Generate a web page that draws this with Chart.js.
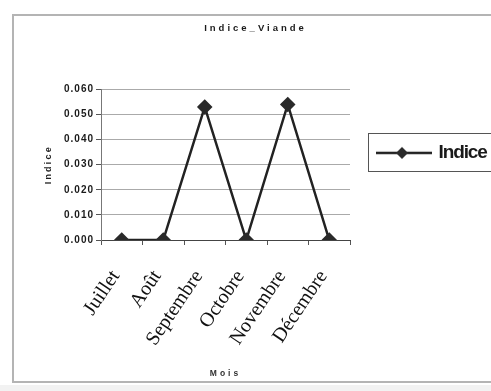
<!DOCTYPE html>
<html>
<head>
<meta charset="utf-8">
<script src="https://cdn.jsdelivr.net/npm/chart.js@4.4.1/dist/chart.umd.min.js"></script>
<style>
  html, body { margin: 0; padding: 0; background: #ffffff; }
  #wrap { position: relative; width: 491px; height: 391px; overflow: hidden; background: #fff; }
  #frame { position: absolute; left: 12px; top: 14px; width: 500px; height: 369px; border: 2px solid #b4b4b4; box-sizing: border-box; }
  #floor { position: absolute; left: 0; top: 385px; width: 491px; height: 6px; background: #f2f2f2; }
  canvas { position: absolute; left: 0; top: 0; }
</style>
</head>
<body>
<div id="wrap">
  <div id="frame"></div>
  <div id="floor"></div>
  <canvas id="c" width="491" height="391"></canvas>
</div>
<script>
// ---- data ----
const chartTitle = "Indice_Viande";
const categories = ["Juillet", "Août", "Septembre", "Octobre", "Novembre", "Décembre"];
const seriesName = "Indice";
const indiceValues = [0.000, 0.000, 0.053, 0.000, 0.054, 0.000];
const yTitle = "Indice";
const xTitle = "Mois";
const yMin = 0, yMax = 0.06, yStep = 0.01;

// legend symbol: line with diamond
function legendSymbol() {
  const c = document.createElement('canvas');
  c.width = 67; c.height = 14;
  const g = c.getContext('2d');
  g.strokeStyle = '#222'; g.lineWidth = 2.5;
  g.beginPath(); g.moveTo(11, 7); g.lineTo(67, 7); g.stroke();
  g.fillStyle = '#2a2a2a';
  g.beginPath(); g.moveTo(37, 1); g.lineTo(43, 7); g.lineTo(37, 13); g.lineTo(31, 7); g.closePath(); g.fill();
  return c;
}
const symbol = legendSymbol();

function spaced(obj, method, sp) {
  const key = '__sp_' + method;
  if (!obj || obj[key]) return;
  const orig = obj[method];
  obj[method] = function (...a) {
    const ctx = this.ctx;
    const prev = ctx.letterSpacing;
    ctx.letterSpacing = sp;
    try { return orig.apply(this, a); } finally { ctx.letterSpacing = prev; }
  };
  obj[key] = true;
}

const stylePlugin = {
  id: 'stylePlugin',
  beforeDraw(chart) {
    spaced(chart.titleBlock, 'draw', '3px');
    spaced(chart.legend, 'draw', '-1.1px');
    const y = chart.scales.y, x = chart.scales.x;
    spaced(y, 'drawLabels', '1px');
    spaced(y, 'drawTitle', '2.2px');
    spaced(x, 'drawTitle', '3px');
  },
  afterDraw(chart) {
    const lg = chart.legend;
    if (!lg || !lg.legendHitBoxes || !lg.legendHitBoxes.length) return;
    const hb = lg.legendHitBoxes[0];
    const ctx = chart.ctx;
    ctx.save();
    ctx.strokeStyle = '#555';
    ctx.lineWidth = 1;
    const top = hb.top + hb.height / 2 - 19;
    ctx.strokeRect(hb.left + 0.5, Math.round(top) - 0.5, 200, 38);
    ctx.restore();
  }
};

new Chart(document.getElementById('c'), {
  type: 'line',
  data: {
    labels: categories,
    datasets: [{
      label: seriesName,
      data: indiceValues,
      borderColor: '#222',
      borderWidth: 2.5,
      backgroundColor: '#2a2a2a',
      pointStyle: 'rectRot',
      pointRadius: 6,
      pointHoverRadius: 6,
      pointBackgroundColor: '#2a2a2a',
      pointBorderColor: '#2a2a2a',
      tension: 0,
      fill: false
    }]
  },
  options: {
    responsive: false,
    animation: false,
    events: [],
    layout: { padding: { left: 20, right: 0, top: 15, bottom: 6 } },
    plugins: {
      title: {
        display: true,
        text: chartTitle,
        color: '#1a1a1a',
        font: { family: 'Arial, "Liberation Sans", sans-serif', size: 9.5, weight: 'bold' },
        padding: { top: 8, bottom: 55 }
      },
      legend: {
        display: true,
        position: 'right',
        align: 'start',
        fullSize: false,
        maxWidth: 141,
        title: { display: true, text: '', font: { size: 10 }, padding: { top: 0, bottom: 24 } },
        labels: {
          usePointStyle: true,
          pointStyleWidth: 61,
          padding: 18,
          color: '#1a1a1a',
          font: { family: 'Arial, "Liberation Sans", sans-serif', size: 19, weight: 'bold' },
          generateLabels(chart) {
            const items = Chart.defaults.plugins.legend.labels.generateLabels(chart);
            items.forEach(it => { it.pointStyle = symbol; });
            return items;
          }
        }
      },
      tooltip: { enabled: false }
    },
    scales: {
      x: {
        type: 'category',
        offset: true,
        grid: { display: true, drawOnChartArea: false, offset: true, tickLength: 5, color: '#555', tickColor: '#555' },
        border: { display: true, color: '#444', width: 1 },
        ticks: {
          autoSkip: false,
          maxRotation: 56,
          minRotation: 56,
          padding: 21,
          labelOffset: -6,
          color: '#111',
          font: { family: '"Liberation Serif", "Times New Roman", serif', size: 20 }
        },
        title: {
          display: true,
          text: xTitle,
          color: '#333',
          font: { family: 'Arial, "Liberation Sans", sans-serif', size: 8.5, weight: 'bold' },
          padding: { top: 2, bottom: 6 }
        },
        afterFit(s) { s.height = 145; }
      },
      y: {
        min: yMin,
        max: yMax,
        grid: { color: '#aaa', lineWidth: 1, tickLength: 5, tickColor: '#555' },
        border: { display: true, color: '#777', width: 1 },
        ticks: {
          stepSize: yStep,
          padding: 2,
          color: '#1a1a1a',
          font: { family: 'Arial, "Liberation Sans", sans-serif', size: 10, weight: 'bold' },
          callback: v => Number(v).toFixed(3)
        },
        title: {
          display: true,
          text: yTitle,
          color: '#1a1a1a',
          font: { family: 'Arial, "Liberation Sans", sans-serif', size: 9, weight: 'bold' },
          padding: { top: 23, bottom: 10 }
        },
        afterFit(s) { s.width = 81; }
      }
    }
  },
  plugins: [stylePlugin]
});
</script>
</body>
</html>
